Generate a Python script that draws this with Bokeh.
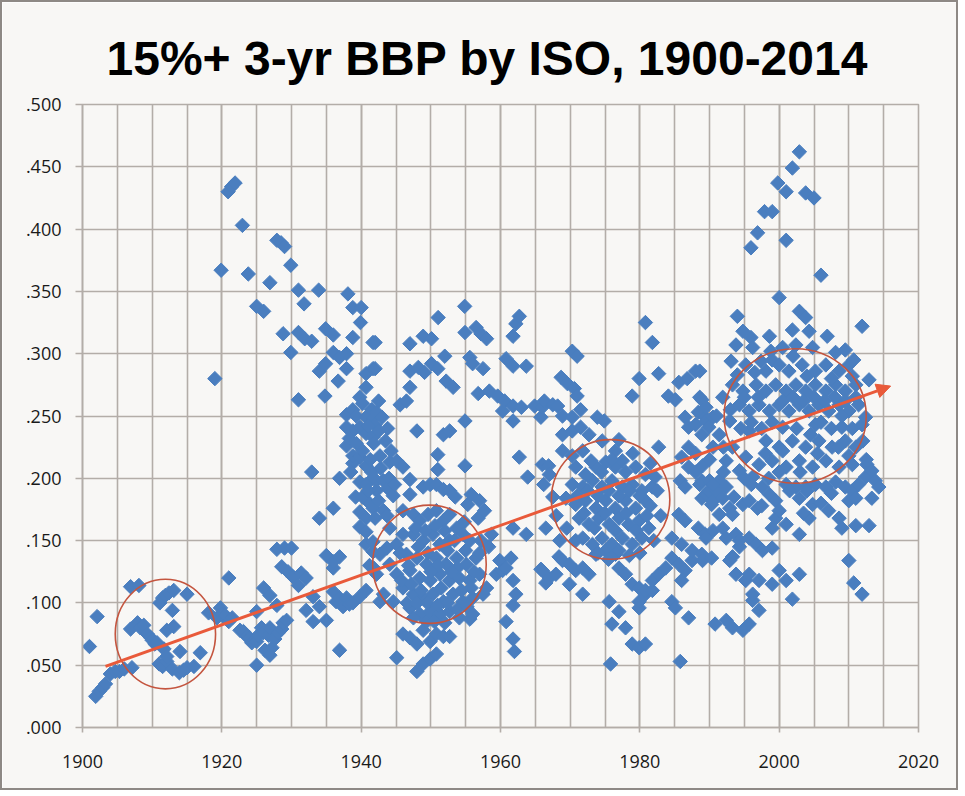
import numpy as np
from bokeh.plotting import figure
from bokeh.models import Range1d, FixedTicker, CustomJSTickFormatter, Arrow, NormalHead, ColumnDataSource
from bokeh.embed import file_html
from bokeh.resources import INLINE

# ---------- data (year, 3-yr BBP) ----------
era_1900 = [
    (1901.0, .065), (1902.1, .089), (1901.9, .025), (1902.4, .029), (1902.9, .032), (1903.3, .035),
    (1904.0, .043), (1904.7, .045), (1905.3, .045), (1906.0, .047), (1907.1, .048), (1906.9, .113),
    (1908.1, .114), (1906.9, .079), (1907.9, .084), (1908.3, .080), (1908.8, .082), (1909.3, .075),
    (1909.8, .072), (1910.0, .070), (1910.4, .067), (1910.7, .068), (1911.1, .100), (1911.5, .104),
    (1911.9, .106), (1912.4, .108), (1913.1, .110), (1915.0, .107), (1912.9, .094), (1912.1, .078),
    (1913.1, .081), (1911.0, .051), (1911.5, .049), (1912.1, .053), (1912.9, .047), (1913.9, .044),
    (1914.5, .046), (1914.0, .061), (1915.0, .048), (1916.0, .049), (1916.9, .060), (1911.7, .063),
    (1912.1, .057), (1918.1, .092), (1919.0, .280), (1919.3, .088), (1919.8, .096), (1919.9, .367),
]

era_1920 = [
    (1920.0, .091), (1920.5, .090), (1920.9, .430), (1921.4, .434), (1921.9, .437), (1921.0, .120),
    (1921.0, .085), (1921.5, .088), (1922.6, .078), (1922.95, .403), (1923.1, .077), (1923.6, .073),
    (1923.8, .364), (1924.0, .072), (1924.3, .068), (1925.0, .069), (1925.0, .050), (1925.0, .093),
    (1925.0, .338), (1925.2, .074), (1925.7, .080), (1925.95, .076), (1926.0, .334), (1926.0, .112),
    (1926.2, .062), (1926.7, .074), (1926.9, .080), (1926.9, .058), (1926.9, .106), (1926.9, .357),
    (1927.2, .064), (1927.6, .071), (1927.9, .098), (1927.9, .143), (1927.9, .391), (1928.1, .076),
    (1928.5, .389), (1928.6, .079), (1928.6, .129), (1928.8, .084), (1928.8, .316), (1929.0, .144),
    (1929.0, .386), (1929.3, .086), (1929.5, .125), (1929.9, .301), (1929.9, .371), (1930.0, .144),
    (1930.2, .121), (1931.0, .114), (1931.0, .263), (1931.0, .317), (1931.0, .351), (1931.4, .124),
    (1931.8, .340), (1931.9, .312), (1932.1, .094), (1932.1, .120), (1932.9, .205), (1932.9, .310),
    (1933.1, .085), (1933.1, .105), (1933.9, .351), (1934.0, .097), (1934.0, .168), (1934.0, .286),
    (1934.8, .266), (1934.9, .292), (1934.9, .320), (1935.0, .086), (1935.0, .138), (1936.0, .109),
    (1936.0, .128), (1936.0, .133), (1936.0, .176), (1936.0, .301), (1936.0, .315), (1936.4, .101),
    (1936.7, .278), (1936.9, .062), (1936.9, .104), (1936.9, .137), (1936.9, .200), (1936.9, .297),
    (1937.4, .097), (1937.9, .104), (1937.9, .226), (1937.9, .241), (1937.9, .251), (1937.9, .288),
    (1937.9, .300), (1938.1, .348), (1938.3, .099), (1938.8, .100), (1938.8, .212), (1938.8, .218),
    (1938.8, .238), (1938.8, .255), (1938.8, .313), (1938.8, .337), (1939.8, .105), (1939.8, .161),
    (1939.8, .173), (1939.8, .197), (1939.8, .217), (1939.8, .241), (1939.8, .265), (1939.9, .325),
    (1938.3, .232), (1939.3, .228), (1939.3, .250), (1938.5, .205), (1939.2, .185),
]

era_1940 = [
    (1940.0, .337), (1940.7, .110), (1940.7, .147), (1940.7, .157), (1940.7, .168), (1940.7, .195),
    (1940.7, .210), (1940.7, .236), (1940.7, .249), (1940.7, .273), (1940.7, .284), (1941.2, .130),
    (1941.2, .180), (1941.3, .215), (1941.5, .205), (1941.5, .255), (1941.7, .141), (1941.7, .149),
    (1941.7, .176), (1941.7, .200), (1941.7, .233), (1941.7, .248), (1941.7, .288), (1941.7, .309),
    (1941.8, .128), (1941.8, .228), (1942.0, .168), (1942.0, .243), (1942.0, .288), (1942.0, .309),
    (1942.2, .123), (1942.2, .190), (1942.2, .198), (1942.2, .253), (1942.5, .182), (1942.5, .238),
    (1942.7, .101), (1942.7, .139), (1942.7, .218), (1943.0, .249), (1943.2, .107), (1943.2, .174),
    (1943.2, .198), (1943.5, .230), (1943.7, .144), (1943.7, .170), (1943.8, .192), (1944.1, .131),
    (1944.1, .160), (1944.1, .213), (1944.3, .222), (1944.6, .101), (1944.6, .186), (1945.1, .056),
    (1945.1, .123), (1945.1, .147), (1945.1, .214), (1945.6, .259), (1946.0, .075), (1946.0, .112),
    (1946.0, .155), (1946.0, .174), (1946.0, .209), (1946.5, .139), (1946.5, .262), (1947.0, .072),
    (1947.0, .096), (1947.0, .126), (1947.0, .187), (1947.0, .199), (1947.0, .273), (1947.0, .286),
    (1947.0, .308), (1947.5, .107), (1947.5, .155), (1947.5, .171), (1948.0, .045), (1948.0, .067),
    (1948.0, .136), (1948.0, .238), (1948.2, .289), (1948.4, .091), (1948.4, .120), (1948.4, .166),
    (1948.9, .051), (1948.9, .078), (1948.9, .104), (1948.9, .150), (1948.9, .193), (1948.9, .314),
    (1949.1, .285), (1949.4, .085), (1949.4, .131), (1949.6, .171), (1949.9, .055), (1949.9, .069),
    (1949.9, .093), (1949.9, .118), (1949.9, .195), (1950.1, .292), (1950.1, .312), (1950.3, .107),
    (1950.3, .155), (1950.8, .059), (1950.8, .075), (1950.8, .136), (1950.8, .174), (1950.8, .195),
    (1951.0, .207), (1951.0, .219), (1951.0, .288), (1951.05, .329), (1951.3, .091), (1951.3, .123),
    (1951.3, .147), (1951.8, .073), (1951.8, .101), (1951.8, .166), (1951.8, .191), (1951.8, .235),
    (1952.0, .298), (1952.2, .131), (1952.2, .278), (1952.7, .073), (1952.7, .093), (1952.7, .118),
    (1952.7, .150), (1952.7, .171), (1952.7, .190), (1952.7, .238), (1953.2, .107), (1953.2, .273),
    (1953.5, .185), (1953.7, .136), (1953.7, .160), (1954.1, .088), (1954.1, .120), (1954.6, .101),
    (1954.6, .155), (1954.86, .338), (1954.9, .210), (1954.9, .246), (1954.9, .317), (1955.1, .131),
    (1955.3, .179), (1955.6, .087), (1955.6, .118), (1955.6, .150), (1955.6, .297), (1955.8, .187),
    (1956.0, .091), (1956.0, .104), (1956.0, .292), (1956.5, .136), (1956.5, .321), (1956.8, .168),
    (1956.8, .268), (1957.0, .123), (1957.0, .140), (1957.0, .182), (1957.2, .150), (1957.2, .316),
    (1957.5, .107), (1957.5, .288), (1957.7, .174), (1958.0, .112), (1958.0, .312), (1958.3, .145),
    (1958.4, .270), (1958.7, .155), (1959.4, .123), (1959.6, .266), (1959.9, .134),
    (1940.2, .222), (1941.0, .242), (1942.5, .262), (1943.8, .240), (1940.2, .260), (1940.2, .185),
    (1941.0, .190), (1942.8, .208), (1944.0, .200), (1944.8, .195), (1945.6, .140), (1946.8, .130),
    (1948.2, .145), (1949.6, .140), (1951.0, .130), (1952.4, .142), (1953.8, .128), (1955.0, .142),
    (1956.2, .125), (1945.8, .118), (1947.2, .115), (1948.6, .110), (1950.0, .125), (1951.5, .112),
    (1953.0, .125), (1954.4, .110), (1955.8, .112), (1947.8, .160), (1949.2, .158), (1950.6, .162),
    (1952.0, .158), (1953.4, .150), (1954.8, .165), (1946.6, .100), (1948.0, .100), (1949.5, .100),
    (1951.0, .098), (1952.4, .100), (1953.8, .095), (1955.2, .097), (1950.5, .085), (1952.0, .084),
    (1947.5, .088),
]

era_1960 = [
    (1960.3, .126), (1960.3, .254), (1960.6, .262), (1960.8, .085), (1960.8, .128), (1960.8, .296),
    (1961.5, .136), (1961.8, .071), (1961.8, .098), (1961.8, .118), (1961.8, .160), (1961.8, .246),
    (1961.8, .258), (1961.8, .290), (1961.8, .314), (1962.0, .061), (1962.2, .107), (1962.2, .324),
    (1962.7, .217), (1962.7, .330), (1963.0, .257), (1963.7, .155), (1963.7, .290), (1963.9, .201),
    (1964.9, .258), (1965.8, .127), (1965.8, .249), (1966.0, .126), (1966.0, .211), (1966.0, .257),
    (1966.2, .195), (1966.3, .262), (1966.5, .116), (1966.5, .160), (1966.9, .210), (1967.0, .120),
    (1967.0, .203), (1967.5, .185), (1967.5, .259), (1967.95, .123), (1968.0, .170), (1968.2, .258),
    (1968.4, .137), (1968.5, .150), (1968.7, .281), (1968.9, .134), (1968.9, .222), (1968.9, .235),
    (1968.9, .250), (1969.4, .184), (1969.5, .160), (1969.6, .276), (1969.9, .115), (1969.9, .131),
    (1970.3, .195), (1970.3, .218), (1970.3, .238), (1970.3, .249), (1970.3, .302), (1970.6, .272),
    (1970.8, .126), (1970.8, .150), (1970.8, .179), (1970.8, .209), (1971.0, .266), (1971.0, .298),
    (1971.3, .168), (1971.5, .241), (1971.5, .255), (1971.8, .107), (1971.8, .128), (1971.8, .152),
    (1971.8, .193), (1971.8, .222), (1972.2, .182), (1972.2, .203), (1972.7, .123), (1972.7, .163),
    (1972.7, .235), (1973.2, .147), (1973.2, .198), (1973.7, .139), (1973.7, .176), (1973.7, .209),
    (1973.9, .249), (1974.1, .168), (1974.6, .152), (1974.6, .193), (1974.6, .230), (1974.9, .246),
    (1975.1, .142), (1975.1, .182), (1975.1, .213), (1975.6, .101), (1975.6, .163), (1975.8, .051),
    (1976.0, .083), (1976.0, .147), (1976.0, .198), (1976.5, .139), (1976.5, .176), (1976.5, .209),
    (1976.5, .222), (1977.0, .093), (1977.0, .128), (1977.0, .168), (1977.0, .231), (1977.5, .152),
    (1977.5, .193), (1977.5, .214), (1977.95, .080), (1977.95, .123), (1977.95, .182), (1977.95, .205),
    (1978.4, .163), (1978.9, .067), (1978.9, .115), (1978.9, .147), (1978.9, .195), (1978.9, .266),
    (1979.4, .176), (1979.4, .209), (1979.9, .064), (1979.9, .096), (1979.9, .101), (1979.9, .112),
    (1979.9, .166), (1979.9, .280),
    (1971.0, .186), (1972.5, .190), (1974.0, .186), (1975.5, .190), (1977.0, .186), (1978.5, .190),
    (1972.0, .172), (1973.5, .160), (1975.0, .172), (1976.5, .158), (1978.0, .172), (1979.5, .158),
    (1974.0, .140), (1975.5, .135), (1977.0, .142), (1978.5, .138), (1973.0, .214), (1974.5, .205),
    (1976.0, .215), (1979.0, .220),
]

era_1980 = [
    (1980.3, .152), (1980.3, .190), (1980.8, .067), (1980.8, .107), (1980.8, .110), (1980.8, .182),
    (1980.8, .203), (1980.8, .325), (1981.3, .160), (1981.8, .110), (1981.8, .118), (1981.8, .193),
    (1981.8, .309), (1982.2, .201), (1982.7, .123), (1982.7, .225), (1982.7, .284), (1983.7, .128),
    (1984.1, .266), (1984.6, .101), (1984.6, .136), (1984.6, .152), (1985.1, .096), (1985.1, .263),
    (1985.6, .131), (1985.6, .171), (1985.6, .277), (1985.8, .053), (1985.8, .198), (1986.0, .118),
    (1986.0, .147), (1986.0, .217), (1986.5, .126), (1986.5, .166), (1986.5, .193), (1986.5, .249),
    (1986.8, .280), (1987.0, .088), (1987.0, .209), (1987.0, .241), (1987.5, .134), (1987.5, .142),
    (1988.0, .205), (1988.0, .243), (1988.0, .286), (1988.4, .160), (1988.4, .253), (1988.6, .195),
    (1988.6, .265), (1988.6, .286), (1988.9, .139), (1988.9, .184), (1988.9, .198), (1988.9, .235),
    (1988.9, .263), (1989.0, .134), (1989.4, .155), (1989.4, .249), (1989.5, .152), (1989.5, .187),
    (1989.5, .246), (1989.5, .257), (1989.9, .190), (1989.9, .241), (1990.0, .198), (1990.3, .136),
    (1990.3, .179), (1990.5, .158), (1990.5, .182), (1990.5, .225), (1990.5, .249), (1990.8, .083),
    (1991.0, .190), (1991.4, .171), (1991.4, .198), (1991.4, .235), (1991.9, .160), (1991.9, .184),
    (1991.9, .265), (1992.4, .086), (1992.4, .152), (1992.4, .193), (1992.4, .214), (1992.9, .134),
    (1992.9, .176), (1992.9, .246), (1993.1, .294), (1993.3, .080), (1993.3, .137), (1993.3, .171),
    (1993.3, .225), (1993.3, .275), (1993.8, .123), (1993.8, .155), (1993.8, .307), (1994.0, .283),
    (1994.0, .330), (1994.3, .145), (1994.3, .150), (1994.3, .206), (1994.3, .259), (1994.8, .078),
    (1994.8, .179), (1994.8, .270), (1994.8, .318), (1995.2, .118), (1995.2, .217), (1995.2, .291),
    (1995.7, .083), (1995.7, .123), (1995.7, .152), (1995.7, .182), (1995.7, .238), (1995.7, .254),
    (1995.95, .313), (1995.95, .385), (1996.2, .102), (1996.2, .107), (1996.2, .201), (1996.2, .305),
    (1996.7, .147), (1996.7, .275), (1996.9, .176), (1996.9, .397), (1997.1, .094), (1997.1, .118),
    (1997.1, .211), (1997.1, .259), (1997.4, .294), (1997.6, .142), (1997.6, .193), (1997.9, .414),
    (1998.1, .230), (1998.1, .270), (1998.1, .286), (1998.6, .187), (1998.6, .254), (1998.6, .314),
    (1998.8, .302), (1999.0, .115), (1999.0, .144), (1999.0, .214), (1999.0, .414), (1999.5, .168),
    (1999.5, .182), (1999.5, .275), (1999.8, .437),
    (1980.0, .186), (1981.5, .178), (1981.0, .170), (1980.0, .140), (1981.5, .212), (1982.5, .190),
    (1983.0, .170), (1982.0, .150), (1988.0, .220), (1987.0, .225), (1989.0, .210), (1990.0, .215),
    (1990.5, .195), (1991.0, .250), (1992.0, .225), (1992.0, .205), (1993.0, .255), (1993.5, .185),
    (1994.5, .240), (1995.0, .265), (1995.0, .200), (1996.0, .245), (1996.0, .195), (1996.5, .285),
    (1997.0, .265), (1997.5, .240), (1997.5, .178), (1998.0, .220), (1998.5, .200), (1999.0, .245),
    (1999.0, .295), (1999.0, .160),
]

era_2000 = [
    (2000.0, .126), (2000.0, .174), (2000.0, .225), (2000.0, .259), (2000.0, .291), (2000.0, .345),
    (2000.5, .241), (2000.5, .305), (2001.0, .118), (2001.0, .163), (2001.0, .195), (2001.0, .209),
    (2001.0, .270), (2001.0, .391), (2001.0, .430), (2001.4, .254), (2001.4, .286), (2001.9, .103),
    (2001.9, .230), (2001.9, .319), (2001.9, .449), (2002.4, .193), (2002.4, .275), (2002.4, .307),
    (2002.9, .123), (2002.9, .155), (2002.9, .184), (2002.9, .214), (2002.9, .259), (2002.9, .334),
    (2002.9, .462), (2003.3, .291), (2003.8, .193), (2003.8, .225), (2003.8, .270), (2003.8, .329),
    (2003.8, .429), (2004.3, .168), (2004.3, .254), (2004.3, .318), (2004.8, .179), (2004.8, .209),
    (2004.8, .305), (2005.0, .425), (2005.2, .195), (2005.2, .243), (2005.2, .275), (2005.2, .286),
    (2005.7, .230), (2005.7, .259), (2006.0, .363), (2006.7, .193), (2006.7, .214), (2006.7, .270),
    (2006.7, .291), (2006.9, .314), (2007.1, .174), (2007.1, .254), (2007.6, .225), (2008.1, .197),
    (2008.1, .275), (2008.1, .301), (2008.6, .168), (2008.6, .209), (2008.6, .259), (2008.6, .286),
    (2009.0, .160), (2009.0, .241), (2009.5, .193), (2009.5, .230), (2009.5, .270), (2009.5, .303),
    (2010.0, .134), (2010.0, .182), (2010.0, .254), (2010.0, .291), (2010.5, .190), (2010.5, .211),
    (2010.7, .116), (2010.7, .295), (2011.0, .162), (2011.0, .184), (2011.0, .225), (2011.0, .275),
    (2011.4, .195), (2011.4, .259), (2011.9, .107), (2011.9, .243), (2011.9, .322), (2012.4, .201),
    (2012.4, .249), (2012.6, .211), (2012.9, .162), (2012.9, .279), (2013.3, .184), (2013.3, .206),
    (2013.8, .198), (2014.3, .193),
    (2000.5, .262), (2002.0, .265), (2003.5, .262), (2005.0, .265), (2006.5, .262), (2008.0, .265),
    (2009.5, .262), (2011.0, .265), (2002.0, .298), (2004.0, .282), (2007.5, .280), (2010.5, .282),
    (2000.5, .222), (2002.5, .240), (2004.5, .235), (2006.0, .245), (2007.5, .240), (2009.0, .250),
    (2010.5, .240), (2012.0, .230), (2003.0, .205), (2005.5, .220), (2008.5, .225), (2010.0, .218),
    (2012.5, .215), (2000.0, .205), (2001.5, .190), (2004.0, .190), (2007.5, .188), (2006.0, .180),
    (2003.5, .172),
]

# highlighted clusters (centre year, centre value, width in years, height in BBP)
cluster_x = [1911.9, 1949.8, 1975.8, 2002.3]
cluster_y = [0.075, 0.131, 0.183, 0.250]
cluster_w = [14.4, 16.3, 17.0, 20.4]
cluster_h = [0.088, 0.095, 0.096, 0.108]

# hand-drawn trend arrow
trend_start = (1903.3, 0.049)
trend_end = (2016.0, 0.274)

x_ticks = [1900, 1920, 1940, 1960, 1980, 2000, 2020]
x_minor = [1900, 1905, 1910, 1915, 1920, 1925, 1930, 1935, 1940, 1945, 1950, 1955, 1960,
           1965, 1970, 1975, 1980, 1985, 1990, 1995, 2000, 2005, 2010, 2015, 2020]
y_ticks = [0.0, 0.05, 0.1, 0.15, 0.2, 0.25, 0.3, 0.35, 0.4, 0.45, 0.5]

# ---------- styling ----------
BG = "#f8f7f5"
GRID = "#b3ada8"
BLUE = "#4a7ebf"
RED = "#e95a3a"
RING = "#c4553f"
LABEL_FONT = "Open Sans"

pts = era_1900 + era_1920 + era_1940 + era_1960 + era_1980 + era_2000
source = ColumnDataSource(data=dict(year=[a for a, b in pts], bbp=[b for a, b in pts]))

p = figure(width=958, height=790,
           x_range=Range1d(1900, 2020), y_range=Range1d(0, 0.5),
           title="15%+ 3-yr BBP by ISO, 1900-2014",
           output_backend="svg", toolbar_location=None,
           min_border_left=80, min_border_right=42,
           min_border_top=102, min_border_bottom=65,
           background_fill_color=BG, border_fill_color=BG)
p.styles = {"border": "2px solid #8e8985"}

p.title.text_font = "Liberation Sans"
p.title.text_font_style = "bold"
p.title.text_font_size = "48px"
p.title.text_color = "#000000"
p.title.align = "left"
p.title.offset = 24
p.title.standoff = 40

p.outline_line_color = GRID
p.outline_line_width = 1.6

p.xaxis.ticker = FixedTicker(ticks=x_ticks, minor_ticks=x_minor)
p.yaxis.ticker = FixedTicker(ticks=y_ticks)
p.yaxis.formatter = CustomJSTickFormatter(code="return tick.toFixed(3).replace(/^0/, '');")

p.xgrid.grid_line_color = GRID
p.xgrid.minor_grid_line_color = GRID
p.xgrid.grid_line_width = 1.6
p.xgrid.minor_grid_line_width = 1.6
p.ygrid.grid_line_color = GRID
p.ygrid.grid_line_width = 1.6

for ax in (p.xaxis[0], p.yaxis[0]):
    ax.axis_line_color = GRID
    ax.axis_line_width = 1.6
    ax.major_tick_line_color = GRID
    ax.major_tick_line_width = 1.6
    ax.major_tick_in = 0
    ax.minor_tick_line_color = None
    ax.major_label_text_font = LABEL_FONT
    ax.major_label_text_font_size = "18px"
    ax.major_label_text_color = "#1a1a1a"
p.xaxis.major_tick_out = 5
p.xaxis.major_label_standoff = 22
p.yaxis.major_tick_out = 7
p.yaxis.major_label_standoff = 14

p.scatter("year", "bbp", source=source, marker="square", angle=np.pi / 4, size=10.2,
          fill_color=BLUE, line_color=BLUE)

p.ellipse(x=cluster_x, y=cluster_y, width=cluster_w, height=cluster_h,
          fill_color=None, line_color=RING, line_width=1.6)

p.add_layout(Arrow(end=NormalHead(size=14, fill_color=RED, line_color=RED),
                   x_start=trend_start[0], y_start=trend_start[1],
                   x_end=trend_end[0], y_end=trend_end[1],
                   line_color=RED, line_width=3))

open("out.html", "w").write(file_html(p, INLINE))
